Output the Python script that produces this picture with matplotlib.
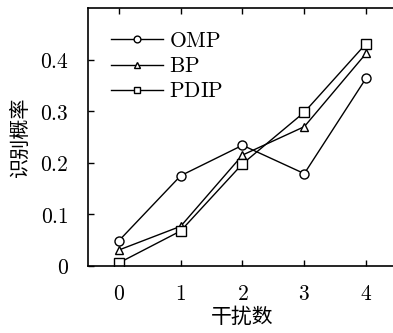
import matplotlib
matplotlib.use("Agg")
import matplotlib.pyplot as plt

plt.rcParams['mathtext.fontset'] = 'cm'
plt.rcParams['font.family'] = ['DejaVu Serif']

x = [0, 1, 2, 3, 4]
omp = [0.049, 0.175, 0.234, 0.179, 0.364]
bp = [0.031, 0.077, 0.215, 0.270, 0.412]
pdip = [0.006, 0.068, 0.198, 0.298, 0.431]
series_names = ["OMP", "BP", "PDIP"]
xticks = [0, 1, 2, 3, 4]
yticks = [0, 0.1, 0.2, 0.3, 0.4]
ytick_labels = ["0", "0.1", "0.2", "0.3", "0.4"]
xlabel = "干扰数"
ylabel = "识别概率"

fig = plt.figure(figsize=(3.93, 3.33), dpi=100)
W, H = 393, 333
ax = fig.add_axes([88 / W, (H - 266) / H, 309 / W, 258 / H])

markers = ['o', '^', 's']
for ys, name, m in zip([omp, bp, pdip], series_names, markers):
    ax.plot(x, ys, color='black', lw=1.0, marker=m, ms=6.5 if m != '^' else 6,
            mfc='white', mec='black', mew=1.0, label="$\\mathrm{" + name + "}$")

ax.set_xlim(-0.5, 4.5)
ax.set_ylim(0, 0.5)
ax.set_xticks(xticks)
ax.set_xticklabels(["$" + str(v) + "$" for v in xticks])
ax.set_yticks(yticks)
ax.set_yticklabels(["$" + s + "$" for s in ytick_labels])
ax.tick_params(direction='in', top=True, right=False, length=4, width=1,
               labelsize=15.5)
ax.tick_params(axis='y', pad=14)
ax.tick_params(axis='x', pad=12)
for s in ax.spines.values():
    s.set_linewidth(1.2)

ax.set_xlabel(xlabel, family=['Noto Sans CJK SC'], fontsize=15, labelpad=1)
ax.set_ylabel(ylabel, family=['Noto Sans CJK SC'], fontsize=14.5, labelpad=6)

leg = ax.legend(loc='upper left', bbox_to_anchor=(0.075, 0.915), frameon=False,
                fontsize=15.5, handlelength=2.4, handletextpad=0.3,
                labelspacing=0.15, markerscale=0.75, borderaxespad=0,
                borderpad=0)

fig.savefig("out.png", dpi=100)
